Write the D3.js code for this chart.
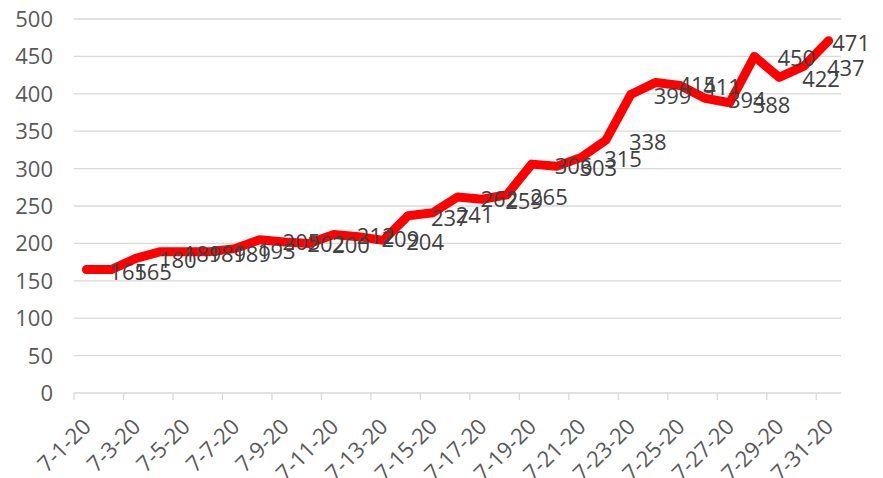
<!DOCTYPE html>
<html>
<head>
<meta charset="utf-8">
<script src="https://cdn.jsdelivr.net/npm/d3@7"></script>
<style>
  html, body { margin: 0; padding: 0; background: #ffffff; }
  svg { display: block; }
  text { font-family: "Open Sans", "Liberation Sans", sans-serif; }
</style>
</head>
<body>
<svg id="chart" width="883" height="478"></svg>
<script>
// Daily values for July 2020
const days = d3.range(1, 32).map(d => `7-${d}-20`);
const values = [165, 165, 180, 189, 189, 189, 193, 205, 202, 200, 212, 209, 204, 237, 241,
                262, 259, 265, 306, 303, 315, 338, 399, 415, 411, 394, 388, 450, 422, 437, 471];
const yTicks = [0, 50, 100, 150, 200, 250, 300, 350, 400, 450, 500];
const xTickLabels = days.filter((d, i) => i % 2 === 0);

const svg = d3.select("#chart");
const plot = { left: 74, right: 841, top: 19, bottom: 393 };
const fontSize = 22;

const x = d3.scaleBand().domain(days).range([plot.left, plot.right]).paddingInner(0).paddingOuter(0);
const y = d3.scaleLinear().domain([0, 500]).range([plot.bottom, plot.top]);
const cx = d => x(d) + x.bandwidth() / 2;

// horizontal gridlines
svg.append("g")
  .selectAll("line")
  .data(yTicks.filter(t => t > 0))
  .join("line")
  .attr("x1", plot.left).attr("x2", plot.right)
  .attr("y1", d => y(d)).attr("y2", d => y(d))
  .attr("stroke", "#d9d9d9").attr("stroke-width", 1.3);

// y axis labels
svg.append("g")
  .selectAll("text")
  .data(yTicks)
  .join("text")
  .attr("x", 53).attr("y", d => y(d))
  .attr("dy", "0.36em")
  .attr("text-anchor", "end")
  .attr("font-size", fontSize)
  .attr("fill", "#595959")
  .text(d => d);

// x axis baseline and tick marks (every other day)
const xAxis = svg.append("g");
xAxis.append("line")
  .attr("x1", plot.left).attr("x2", plot.right)
  .attr("y1", plot.bottom).attr("y2", plot.bottom)
  .attr("stroke", "#d9d9d9").attr("stroke-width", 1.3);
xAxis.selectAll("line.tick")
  .data(xTickLabels)
  .join("line")
  .attr("class", "tick")
  .attr("x1", d => x(d)).attr("x2", d => x(d))
  .attr("y1", plot.bottom).attr("y2", plot.bottom + 7)
  .attr("stroke", "#d9d9d9").attr("stroke-width", 1.3);
xAxis.selectAll("text")
  .data(xTickLabels)
  .join("text")
  .attr("transform", d => `translate(${cx(d) + 6},${plot.bottom + 35}) rotate(-45)`)
  .attr("text-anchor", "end")
  .attr("font-size", fontSize)
  .attr("fill", "#595959")
  .text(d => d);

// the series line
const line = d3.line()
  .x((v, i) => cx(days[i]))
  .y(v => y(v));
svg.append("path")
  .datum(values)
  .attr("d", line)
  .attr("fill", "none")
  .attr("stroke", "#ff0000")
  .attr("stroke-width", 9)
  .attr("stroke-linejoin", "round")
  .attr("stroke-linecap", "round");

// value labels to the right of each point, kept inside the chart area
const labels = svg.append("g")
  .selectAll("text")
  .data(values)
  .join("text")
  .attr("x", (v, i) => cx(days[i]) + 23)
  .attr("y", v => y(v) + 2)
  .attr("dy", "0.36em")
  .attr("font-size", fontSize)
  .attr("fill", "#404040")
  .text(v => v);
labels.each(function () {
  const w = this.getComputedTextLength();
  const xNow = +this.getAttribute("x");
  if (xNow + w > 870) this.setAttribute("x", 870 - w);
});
</script>
</body>
</html>
